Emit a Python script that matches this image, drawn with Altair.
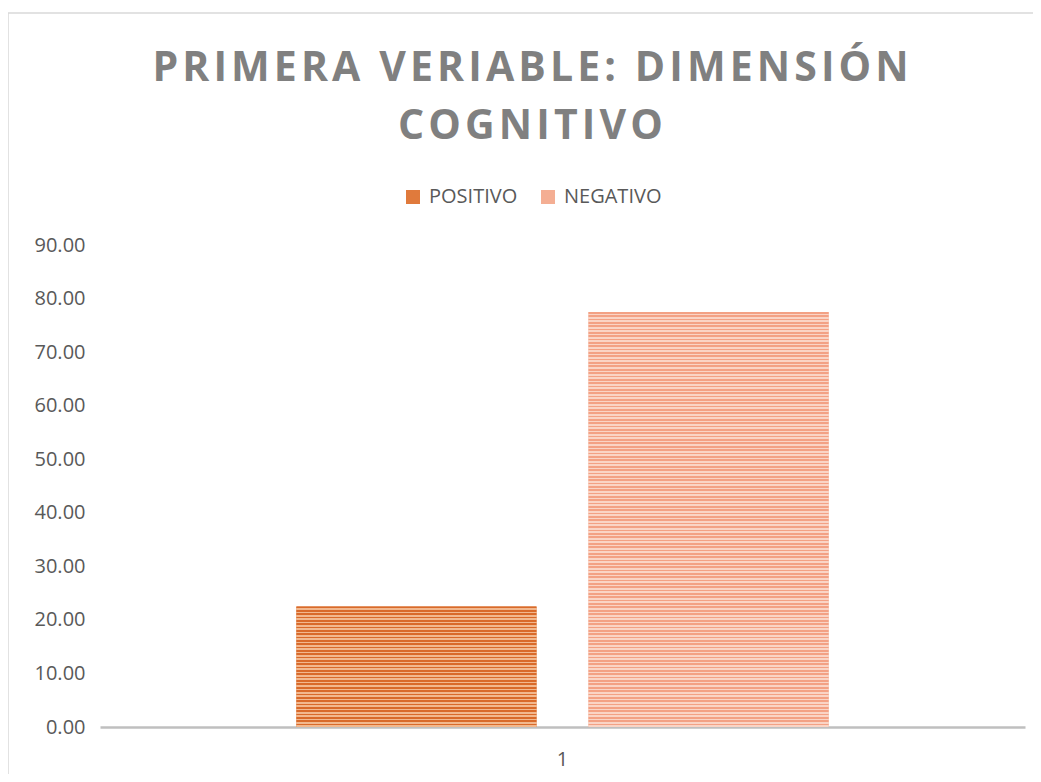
import altair as alt
import pandas as pd

# ---- data ----
categories = ["1"]
series = ["POSITIVO", "NEGATIVO"]
values = [22.5, 77.5]
y_ticks = [0, 10, 20, 30, 40, 50, 60, 70, 80, 90]
title_lines = ["PRIMERA VERIABLE: DIMENSIÓN", "COGNITIVO"]

df = pd.DataFrame({
    "cat": [categories[0]] * len(series),
    "serie": series,
    "valor": values,
})

# ---- style ----
W, H = 925, 482
solid = ["#E07A3C", "#F4AE93"]
dark = ["#D96A2A", "#F3A184"]
light = ["#F2B88E", "#FAD4C5"]
px_per_unit = H / 90.0
stripe_px = 3.35
HAIR = "\u200a"  # visual letter spacing


def spaced(s):
    return HAIR.join(list(s))


def stripes(i, v):
    n = max(1, round(v * px_per_unit / stripe_px))
    stops = []
    for k in range(n):
        a, m, b = k / n, (k + 0.5) / n, (k + 1) / n
        stops += [
            alt.GradientStop(offset=a, color=dark[i]),
            alt.GradientStop(offset=m, color=dark[i]),
            alt.GradientStop(offset=m, color=light[i]),
            alt.GradientStop(offset=b, color=light[i]),
        ]
    return alt.LinearGradient(gradient="linear", stops=stops, x1=0, x2=0, y1=0, y2=1)


x_enc = alt.X("cat:N", title=None,
              scale=alt.Scale(paddingInner=0, paddingOuter=0.369),
              axis=alt.Axis(labelAngle=0, ticks=False, domainColor="#BFBFBF",
                            domainWidth=2.5, labelFontSize=20, labelColor="#595959",
                            labelFont="Open Sans", labelPadding=22))
xo_enc = alt.XOffset("serie:N", sort=series,
                     scale=alt.Scale(domain=series, paddingInner=0.178, paddingOuter=0))
y_enc = alt.Y("valor:Q", title=None,
              scale=alt.Scale(domain=[0, 90], nice=False),
              axis=alt.Axis(values=y_ticks, format=".2f", grid=False, domain=False,
                            ticks=False, labelFontSize=20, labelColor="#595959",
                            labelFont="Open Sans", labelPadding=15))

base = alt.Chart(df)

bars = base.mark_bar().encode(
    x=x_enc, xOffset=xo_enc, y=y_enc,
    color=alt.Color("serie:N", sort=series,
                    scale=alt.Scale(domain=series, range=solid),
                    legend=alt.Legend(title=None, orient="none", direction="horizontal",
                                      legendX=303, legendY=-58, padding=0,
                                      symbolType="square", symbolSize=196,
                                      symbolStrokeWidth=0,
                                      labelFontSize=20, labelColor="#595959",
                                      labelFont="Open Sans", labelOffset=6,
                                      columnPadding=20)),
)

overlays = []
for i, s in enumerate(series):
    overlays.append(
        base.transform_filter(alt.datum.serie == s)
        .mark_bar(color=stripes(i, values[i]))
        .encode(x="cat:N", xOffset=alt.XOffset("serie:N", sort=series), y="valor:Q")
    )

border = alt.Chart(pd.DataFrame({"a": [0]})).mark_rect(
    fillOpacity=0, stroke="#D9D9D9", strokeWidth=1.5, clip=False
).encode(x=alt.value(-92), x2=alt.value(945), y=alt.value(-232), y2=alt.value(545))

chart = alt.layer(border, bars, *overlays).properties(
    width=W, height=H,
    title=alt.TitleParams(
        text=[spaced(t) for t in title_lines],
        font="Open Sans", fontSize=41, fontWeight="bold", color="#808080",
        anchor="middle", frame="group", dx=-32, offset=-136, lineHeight=58,
    ),
    autosize=alt.AutoSizeParams(type="none"),
    padding={"left": 92, "top": 237, "right": 8, "bottom": 47},
).configure_view(stroke=None).configure_title(limit=1000)

chart.save("out.html", embed_options={"renderer": "svg", "actions": False})
